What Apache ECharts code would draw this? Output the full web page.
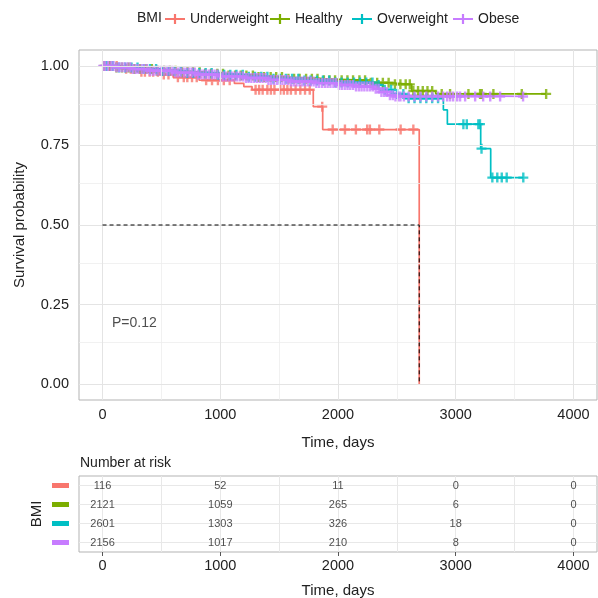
<!DOCTYPE html>
<html><head><meta charset="utf-8">
<script src="https://cdn.jsdelivr.net/npm/echarts@6/dist/echarts.min.js"></script>
<style>html,body{margin:0;padding:0;background:#fff}#c{width:598px;height:598px}</style>
</head><body><div id="c"></div>
<script>
// ---------- data ----------
const groups = ['Underweight', 'Healthy', 'Overweight', 'Obese'];
const colors = ['#F8766D', '#7CAE00', '#00BFC4', '#C77CFF'];

// Kaplan-Meier steps: [time, survival after time]
const stepsUnder = [[0,1],[150,0.991],[290,0.982],[480,0.973],[600,0.964],[820,0.955],[1120,0.945],[1200,0.935],[1270,0.925],[1790,0.872],[1870,0.80],[2690,0]];
const stepsHealthy = [[0,1],[100,0.995],[250,0.99],[450,0.985],[650,0.98],[850,0.975],[1050,0.97],[1300,0.965],[1550,0.96],[1850,0.955],[2250,0.947],[2450,0.942],[2626,0.921],[2830,0.912],[3768,0.912]];
const stepsOver = [[0,1],[120,0.995],[300,0.99],[500,0.984],[700,0.978],[950,0.972],[1200,0.966],[1450,0.96],[1700,0.954],[1950,0.948],[2300,0.94],[2380,0.925],[2470,0.912],[2570,0.898],[2895,0.862],[2929,0.817],[3212,0.74],[3297,0.649],[3575,0.649]];
const stepsObese = [[0,1],[100,0.996],[250,0.99],[400,0.985],[600,0.979],[800,0.973],[1000,0.967],[1200,0.962],[1400,0.956],[1600,0.951],[1800,0.946],[2000,0.94],[2150,0.935],[2300,0.928],[2360,0.918],[2420,0.908],[2470,0.904],[3580,0.904]];

// censoring times
const censorUnder = [60,120,200,240,330,360,400,430,470,520,560,640,690,720,760,800,880,930,980,1030,1080,1300,1330,1360,1400,1430,1460,1510,1540,1570,1600,1640,1680,1720,1760,1866,1955,2059,2152,2248,2271,2351,2532,2640];
const censorHealthy = [15,64,118,165,221,270,318,372,419,466,523,571,620,674,722,769,825,872,921,975,1023,1070,1126,1174,1222,1277,1325,1372,1428,1475,1524,1579,1627,1674,1729,1778,1826,1880,1928,1975,2031,2080,2128,2182,2230,2278,2333,2381,2430,2484,2530,2575,2610,2640,2680,2720,2760,2800,2881,2952,3108,3207,3221,3320,3561,3768];
const censorOver = [35,88,140,192,246,297,350,403,455,507,561,612,665,718,770,822,876,927,980,1033,1085,1137,1191,1242,1295,1348,1400,1452,1506,1557,1610,1663,1715,1767,1821,1872,1925,1978,2030,2082,2136,2187,2240,2293,2345,2397,2451,2502,2555,2600,2650,2700,2750,2800,2850,3065,3094,3192,3206,3219,3311,3353,3391,3433,3574];
const censorObese = [5,22,48,71,93,118,140,163,187,212,236,259,281,305,331,354,377,402,426,450,473,497,522,546,569,593,618,641,664,689,713,737,760,784,809,833,857,880,904,929,952,976,1001,1025,1048,1072,1097,1121,1144,1168,1193,1217,1240,1264,1289,1313,1336,1360,1385,1409,1432,1456,1481,1505,1528,1552,1577,1601,1624,1648,1673,1697,1720,1744,1769,1793,1816,1840,1865,1889,1912,1936,1961,1985,2008,2032,2057,2081,2104,2128,2153,2177,2200,2224,2249,2273,2296,2320,2345,2369,2392,2416,2441,2465,2488,2512,2530,2560,2600,2650,2700,2750,2800,2850,2893,2927,2952,2978,3012,3037,3080,3165,3233,3293,3377,3572];

// number at risk
const riskTimes = [0, 1000, 2000, 3000, 4000];
const riskUnder = [116, 52, 11, 0, 0];
const riskHealthy = [2121, 1059, 265, 6, 0];
const riskOver = [2601, 1303, 326, 18, 0];
const riskObese = [2156, 1017, 210, 8, 0];

// axis breaks
const xBreaks = [0, 1000, 2000, 3000, 4000];
const xMinor = [500, 1500, 2500, 3500];
const yBreaks = [0, 0.25, 0.5, 0.75, 1];
const yMinor = [0.125, 0.375, 0.625, 0.875];

// median & p-value
const medianTime = 2690;
const medianSurv = 0.5;
const pValueText = 'P=0.12';
const pValueCoord = [270, 0.19];

// ---------- build ----------
const FONT = "'Liberation Sans', Arial, Helvetica, sans-serif";
const TXT = '#222';
const plusPath = 'path://M0,3.8H10V6.2H0Z M3.8,0H6.2V10H3.8Z';
const legendIcon = 'path://M0,4.1H20V5.9H0Z M8.9,0H11.1V10H8.9Z';

const allSteps = [stepsUnder, stepsHealthy, stepsOver, stepsObese];
const allCensor = [censorUnder, censorHealthy, censorOver, censorObese];
const allRisk = [riskUnder, riskHealthy, riskOver, riskObese];

function survAt(steps, t) {
  let s = steps[0][1];
  for (const [ti, si] of steps) { if (ti <= t) s = si; else break; }
  return s;
}

const series = [];
// grid lines (main)
series.push({
  type: 'line', xAxisIndex: 0, yAxisIndex: 0, data: [], z: 0, silent: true,
  markLine: { silent: true, symbol: 'none', label: { show: false }, animation: false,
    lineStyle: { color: '#eeeeee', width: 0.8, type: 'solid' },
    data: xMinor.map(v => ({ xAxis: v })).concat(yMinor.map(v => ({ yAxis: v }))) }
});
series.push({
  type: 'line', xAxisIndex: 0, yAxisIndex: 0, data: [], z: 0, silent: true,
  markLine: { silent: true, symbol: 'none', label: { show: false }, animation: false,
    lineStyle: { color: '#e4e4e4', width: 1, type: 'solid' },
    data: xBreaks.map(v => ({ xAxis: v })).concat(yBreaks.map(v => ({ yAxis: v }))) }
});
// grid lines (table)
series.push({
  type: 'line', xAxisIndex: 1, yAxisIndex: 1, data: [], z: 0, silent: true,
  markLine: { silent: true, symbol: 'none', label: { show: false }, animation: false,
    lineStyle: { color: '#e8e8e8', width: 1, type: 'solid' },
    data: xBreaks.concat(xMinor).map(v => ({ xAxis: v })).concat(groups.map(g => ({ yAxis: g }))) }
});

groups.forEach((g, i) => {
  series.push({
    name: g, type: 'line', step: 'end', xAxisIndex: 0, yAxisIndex: 0,
    data: allSteps[i], showSymbol: false, symbol: 'none', z: 2,
    lineStyle: { color: colors[i], width: 1.7 }, itemStyle: { color: colors[i] }
  });
});
groups.forEach((g, i) => {
  series.push({
    name: g, type: 'scatter', xAxisIndex: 0, yAxisIndex: 0, z: 3,
    data: allCensor[i].map(t => [t, survAt(allSteps[i], t)]),
    symbol: plusPath, symbolSize: 10, itemStyle: { color: colors[i] }
  });
});
// median line
series.push({
  type: 'line', xAxisIndex: 0, yAxisIndex: 0, z: 5, symbol: 'none', silent: true,
  data: [[0, medianSurv], [medianTime, medianSurv], [medianTime, 0]],
  lineStyle: { color: '#000', width: 1, type: [4, 3] }
});
// p value
series.push({
  type: 'scatter', xAxisIndex: 0, yAxisIndex: 0, z: 5, silent: true,
  data: [pValueCoord], symbolSize: 0.1, itemStyle: { color: 'rgba(0,0,0,0)' },
  label: { show: true, position: 'inside', formatter: pValueText, fontSize: 14, color: TXT, fontFamily: FONT }
});
// risk table numbers
groups.forEach((g, i) => {
  series.push({
    type: 'scatter', xAxisIndex: 1, yAxisIndex: 1, z: 5, silent: true,
    data: riskTimes.map((t, j) => [t, g, allRisk[i][j]]),
    symbolSize: 0.1, itemStyle: { color: 'rgba(0,0,0,0)' },
    label: { show: true, position: 'inside', formatter: p => String(p.value[2]), fontSize: 11, color: TXT, fontFamily: FONT }
  });
});

const legendLefts = [165, 270, 352, 453];
const legends = groups.map((g, i) => ({
  left: legendLefts[i], top: 12, orient: 'horizontal', padding: 0,
  data: [{ name: g, icon: legendIcon, itemStyle: { color: colors[i] } }],
  itemWidth: 20, itemHeight: 10, selectedMode: false,
  textStyle: { fontSize: 14, color: TXT, fontFamily: FONT }
}));

const rich = {};
groups.forEach((g, i) => { rich['s' + i] = { width: 17, height: 5, backgroundColor: colors[i], fontSize: 1 }; });

const option = {
  animation: false,
  backgroundColor: '#fff',
  textStyle: { fontFamily: FONT },
  legend: legends,
  graphic: [
    { type: 'text', left: 137, top: 11, style: { text: 'BMI', fontSize: 14, fill: TXT, fontFamily: FONT } },
    { type: 'text', left: 80, top: 456, style: { text: 'Number at risk', fontSize: 14, fill: TXT, fontFamily: FONT } }
  ],
  grid: [
    { left: 79, right: 1, top: 50, height: 350, show: true, borderColor: '#b3b3b3', borderWidth: 1, backgroundColor: '#fff', outerBoundsMode: 'none', containLabel: false },
    { left: 79, right: 1, top: 476, height: 76, show: true, borderColor: '#b3b3b3', borderWidth: 1, backgroundColor: '#fff', outerBoundsMode: 'none', containLabel: false }
  ],
  xAxis: [
    { type: 'value', gridIndex: 0, min: -200, max: 4200,
      name: 'Time, days', nameLocation: 'middle', nameGap: 35, nameMoveOverlap: false,
      nameTextStyle: { fontSize: 15, color: TXT, fontFamily: FONT },
      axisLine: { show: false },
      axisTick: { show: true, length: 5, customValues: xBreaks, lineStyle: { color: '#555' } },
      axisLabel: { customValues: xBreaks, margin: 7, fontSize: 14.5, color: TXT, fontFamily: FONT, formatter: v => String(v) },
      splitLine: { show: false } },
    { type: 'value', gridIndex: 1, min: -200, max: 4200,
      name: 'Time, days', nameLocation: 'middle', nameGap: 31, nameMoveOverlap: false,
      nameTextStyle: { fontSize: 15, color: TXT, fontFamily: FONT },
      axisLine: { show: false },
      axisTick: { show: true, length: 4, customValues: xBreaks, lineStyle: { color: '#555' } },
      axisLabel: { customValues: xBreaks, margin: 6, fontSize: 14.5, color: TXT, fontFamily: FONT, formatter: v => String(v) },
      splitLine: { show: false } }
  ],
  yAxis: [
    { type: 'value', gridIndex: 0, min: -0.05, max: 1.05,
      name: 'Survival probability', nameLocation: 'middle', nameGap: 52, nameRotate: 90, nameMoveOverlap: false,
      nameTextStyle: { fontSize: 15, color: TXT, fontFamily: FONT },
      axisLine: { show: false },
      axisTick: { show: true, length: 5, customValues: yBreaks, lineStyle: { color: '#555' } },
      axisLabel: { customValues: yBreaks, margin: 10, fontSize: 14.5, color: TXT, fontFamily: FONT, formatter: v => v.toFixed(2) },
      splitLine: { show: false } },
    { type: 'category', gridIndex: 1, data: groups, inverse: true,
      name: 'BMI', nameLocation: 'middle', nameGap: 35, nameRotate: 90, nameMoveOverlap: false,
      nameTextStyle: { fontSize: 15, color: TXT, fontFamily: FONT },
      axisLine: { show: false }, axisTick: { show: false }, splitLine: { show: false },
      axisLabel: { margin: 10, formatter: (v, idx) => '{s' + idx + '| }', rich: rich } }
  ],
  series: series
};

const chart = echarts.init(document.getElementById('c'), null, { renderer: 'canvas' });
chart.setOption(option);
</script>
</body></html>
